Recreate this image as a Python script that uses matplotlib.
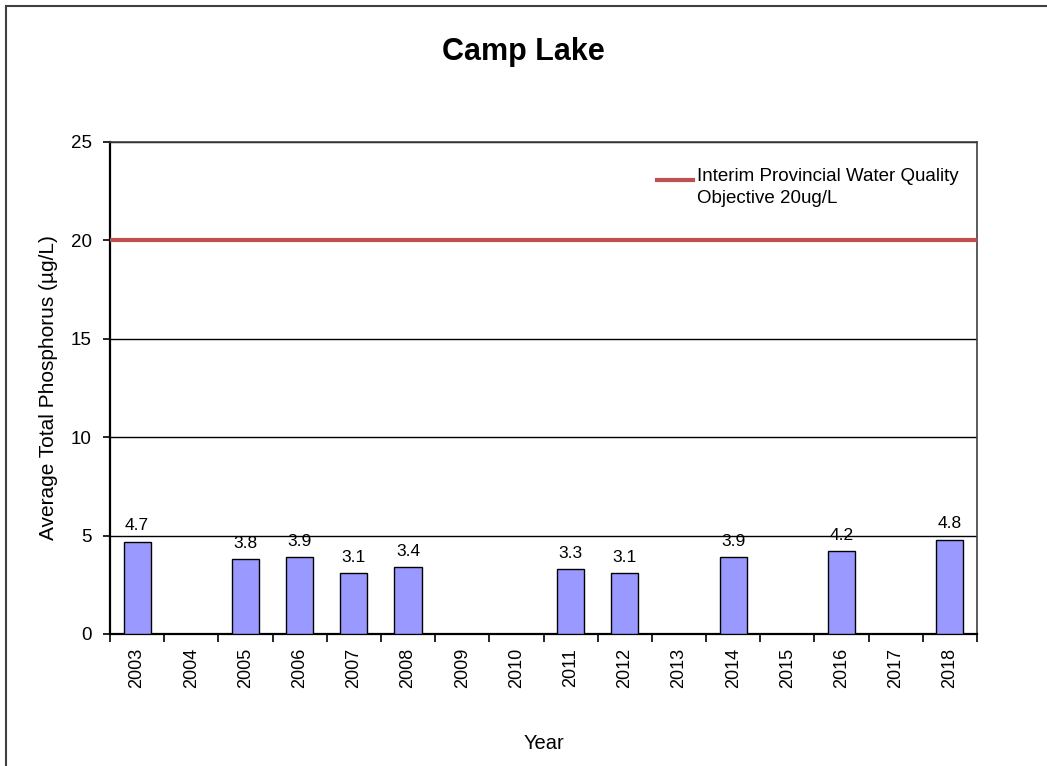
import numpy as np
import matplotlib
matplotlib.use("Agg")
import matplotlib.pyplot as plt
from matplotlib.patches import Rectangle

years = ["2003", "2004", "2005", "2006", "2007", "2008", "2009", "2010",
         "2011", "2012", "2013", "2014", "2015", "2016", "2017", "2018"]
phosphorus = [4.7, np.nan, 3.8, 3.9, 3.1, 3.4, np.nan, np.nan,
              3.3, 3.1, np.nan, 3.9, np.nan, 4.2, np.nan, 4.8]
objective_value = 20
objective_label = "Interim Provincial Water Quality\nObjective 20ug/L"
y_ticks = [0, 5, 10, 15, 20, 25]

plt.rcParams['font.family'] = ['Liberation Sans', 'DejaVu Sans']

W, H = 1047, 766
fig = plt.figure(figsize=(W / 100, H / 100), dpi=100)
ax = fig.add_axes([110 / W, 1 - 634 / H, (977 - 110) / W, (634 - 142) / H])

# figure border (left and top visible)
fig.patches.append(Rectangle((6 / W, -0.1), 1.2, 1.1 - 6 / H, transform=fig.transFigure,
                             fill=False, edgecolor='#404040', linewidth=1.5, clip_on=False))

x = np.arange(len(years))
vals = np.array(phosphorus, dtype=float)
mask = ~np.isnan(vals)
ax.bar(x[mask], vals[mask], width=0.5, color='#9999FF', edgecolor='black',
       linewidth=1.0, zorder=3)
for xi, v in zip(x[mask], vals[mask]):
    ax.annotate(f"{v:.1f}", (xi, v), xytext=(0, 6), textcoords='offset points',
                ha='center', va='bottom', fontsize=12.5, color='black', zorder=5)

ax.axhline(objective_value, color='#C0504D', linewidth=3, zorder=4)

ax.set_xlim(-0.5, len(years) - 0.5)
ax.set_ylim(0, 25)
ax.set_yticks(y_ticks)
ax.yaxis.grid(True, color='black', linewidth=1.0, zorder=1)
ax.set_axisbelow(True)

ax.set_xticks(np.arange(-0.5, len(years), 1.0))
ax.set_xticklabels([])
ax.set_xticks(x, minor=True)
ax.set_xticklabels(years, minor=True, rotation=90, fontsize=13)
ax.tick_params(axis='x', which='minor', length=0, pad=10)
ax.tick_params(axis='x', which='major', length=6, width=1.2, direction='out')
ax.tick_params(axis='y', length=5, width=1.2, pad=8, labelsize=13.5)

for s in ['left', 'bottom']:
    ax.spines[s].set_linewidth(1.6)
    ax.spines[s].set_color('black')
for s in ['top', 'right']:
    ax.spines[s].set_linewidth(1.2)
    ax.spines[s].set_color('#404040')

ax.set_ylabel("Average Total Phosphorus (µg/L)", fontsize=15, labelpad=9)
ax.set_xlabel("Year", fontsize=14.5, labelpad=33)

fig.text(0.5, 1 - 52 / H, "Camp Lake", ha='center', va='center', fontsize=22,
         fontweight='bold')

# legend entry (line + wrapped text)
ax.plot([(657 - 110) / 867, (693 - 110) / 867], [0.9228, 0.9228], transform=ax.transAxes,
        color='#C0504D', linewidth=3, clip_on=False, zorder=5)
ax.text((697 - 110) / 867, 0.9463, objective_label, transform=ax.transAxes,
        ha='left', va='top', fontsize=13.5, linespacing=1.38, zorder=5)

fig.savefig("out.png", dpi=100, facecolor='white')
